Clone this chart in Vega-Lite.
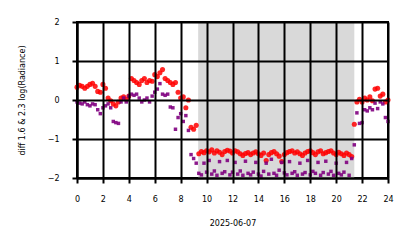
{
  "$schema": "https://vega.github.io/schema/vega-lite/v6.json",
  "width": 311,
  "height": 156,
  "autosize": {"type": "none"},
  "padding": {"left": 77, "top": 22, "right": 26, "bottom": 70},
  "background": "white",
  "config": {
    "font": "DejaVu Sans",
    "view": {"stroke": "black", "strokeWidth": 2},
    "axis": {
      "domainColor": "black",
      "domainWidth": 2,
      "tickColor": "black",
      "tickWidth": 2,
      "tickSize": 5,
      "labelFont": "DejaVu Sans",
      "labelFontSize": 8,
      "labelColor": "black",
      "titleFont": "DejaVu Sans",
      "titleFontSize": 8,
      "titleFontWeight": "normal",
      "titleColor": "black"
    }
  },
  "datasets": {
    "band": [{"start": 9.35, "end": 21.4}],
    "red": [
      {"h":0.0,"v":0.33},{"h":0.2,"v":0.38},{"h":0.4,"v":0.35},{"h":0.6,"v":0.30},{"h":0.8,"v":0.35},
      {"h":1.0,"v":0.40},{"h":1.2,"v":0.43},{"h":1.4,"v":0.35},{"h":1.6,"v":0.22},{"h":1.8,"v":0.20},
      {"h":2.0,"v":0.40},{"h":2.2,"v":0.30},{"h":2.4,"v":0.05},{"h":2.6,"v":-0.02},{"h":2.8,"v":-0.10},
      {"h":3.0,"v":-0.15},{"h":3.2,"v":-0.05},{"h":3.4,"v":0.05},{"h":3.6,"v":0.08},{"h":3.8,"v":0.02},
      {"h":4.0,"v":0.10},{"h":4.2,"v":0.55},{"h":4.4,"v":0.50},{"h":4.6,"v":0.45},{"h":4.8,"v":0.40},
      {"h":5.0,"v":0.50},{"h":5.2,"v":0.55},{"h":5.4,"v":0.45},{"h":5.6,"v":0.50},{"h":5.8,"v":0.48},
      {"h":6.0,"v":0.65},{"h":6.2,"v":0.60},{"h":6.4,"v":0.70},{"h":6.6,"v":0.78},{"h":6.8,"v":0.55},
      {"h":7.0,"v":0.50},{"h":7.2,"v":0.45},{"h":7.4,"v":0.40},{"h":7.6,"v":0.45},{"h":7.8,"v":0.20},
      {"h":8.0,"v":0.05},{"h":8.2,"v":0.08},{"h":8.4,"v":-0.20},{"h":8.6,"v":0.0},{"h":8.8,"v":-0.70},
      {"h":9.0,"v":-0.75},{"h":9.2,"v":-0.65},
      {"h":9.4,"v":-1.38},{"h":9.6,"v":-1.32},{"h":9.8,"v":-1.35},{"h":10.0,"v":-1.30},{"h":10.2,"v":-1.33},
      {"h":10.4,"v":-1.28},{"h":10.6,"v":-1.36},{"h":10.8,"v":-1.30},{"h":11.0,"v":-1.34},{"h":11.2,"v":-1.40},
      {"h":11.4,"v":-1.32},{"h":11.6,"v":-1.29},{"h":11.8,"v":-1.31},{"h":12.0,"v":-1.36},{"h":12.2,"v":-1.30},
      {"h":12.4,"v":-1.33},{"h":12.6,"v":-1.38},{"h":12.8,"v":-1.42},{"h":13.0,"v":-1.37},{"h":13.2,"v":-1.35},
      {"h":13.4,"v":-1.40},{"h":13.6,"v":-1.36},{"h":13.8,"v":-1.33},{"h":14.0,"v":-1.38},{"h":14.2,"v":-1.42},
      {"h":14.4,"v":-1.36},{"h":14.6,"v":-1.55},{"h":14.8,"v":-1.40},{"h":15.0,"v":-1.35},{"h":15.2,"v":-1.32},
      {"h":15.4,"v":-1.38},{"h":15.6,"v":-1.44},{"h":15.8,"v":-1.58},{"h":16.0,"v":-1.40},{"h":16.2,"v":-1.35},
      {"h":16.4,"v":-1.32},{"h":16.6,"v":-1.30},{"h":16.8,"v":-1.36},{"h":17.0,"v":-1.33},{"h":17.2,"v":-1.38},
      {"h":17.4,"v":-1.42},{"h":17.6,"v":-1.36},{"h":17.8,"v":-1.32},{"h":18.0,"v":-1.30},{"h":18.2,"v":-1.35},
      {"h":18.4,"v":-1.40},{"h":18.6,"v":-1.33},{"h":18.8,"v":-1.30},{"h":19.0,"v":-1.38},{"h":19.2,"v":-1.35},
      {"h":19.4,"v":-1.32},{"h":19.6,"v":-1.30},{"h":19.8,"v":-1.36},{"h":20.0,"v":-1.40},{"h":20.2,"v":-1.34},
      {"h":20.4,"v":-1.38},{"h":20.6,"v":-1.42},{"h":20.8,"v":-1.36},{"h":21.0,"v":-1.40},{"h":21.2,"v":-1.45},
      {"h":21.4,"v":-0.62},{"h":21.6,"v":-0.05},{"h":21.8,"v":0.02},{"h":22.0,"v":-0.05},{"h":22.2,"v":0.05},
      {"h":22.4,"v":0.0},{"h":22.6,"v":0.08},{"h":22.8,"v":-0.02},{"h":23.0,"v":0.28},{"h":23.2,"v":0.30},
      {"h":23.4,"v":0.10},{"h":23.6,"v":0.15},{"h":23.8,"v":-0.05},{"h":24.0,"v":0.0}
    ],
    "purple": [
      {"h":0.0,"v":-0.05},{"h":0.2,"v":-0.08},{"h":0.4,"v":-0.10},{"h":0.6,"v":-0.05},{"h":0.8,"v":-0.12},
      {"h":1.0,"v":-0.15},{"h":1.2,"v":-0.10},{"h":1.4,"v":-0.12},{"h":1.6,"v":-0.25},{"h":1.8,"v":-0.35},
      {"h":2.0,"v":-0.20},{"h":2.2,"v":-0.15},{"h":2.4,"v":-0.10},{"h":2.6,"v":-0.20},{"h":2.8,"v":-0.55},
      {"h":3.0,"v":-0.58},{"h":3.2,"v":-0.60},{"h":3.4,"v":-0.05},{"h":3.6,"v":0.05},{"h":3.8,"v":-0.05},
      {"h":4.0,"v":0.10},{"h":4.2,"v":0.15},{"h":4.4,"v":0.12},{"h":4.6,"v":0.15},{"h":4.8,"v":0.05},
      {"h":5.0,"v":-0.05},{"h":5.2,"v":0.0},{"h":5.4,"v":0.05},{"h":5.6,"v":-0.05},{"h":5.8,"v":0.10},
      {"h":6.0,"v":0.20},{"h":6.2,"v":0.28},{"h":6.4,"v":0.42},{"h":6.6,"v":0.15},{"h":6.8,"v":0.12},
      {"h":7.0,"v":0.15},{"h":7.2,"v":-0.18},{"h":7.4,"v":-0.20},{"h":7.6,"v":-0.75},{"h":7.8,"v":-0.45},
      {"h":8.0,"v":-0.35},{"h":8.2,"v":-0.55},{"h":8.4,"v":-0.40},{"h":8.6,"v":-0.78},{"h":8.8,"v":-1.40},
      {"h":9.0,"v":-1.50},{"h":9.2,"v":-1.62},
      {"h":9.4,"v":-1.88},{"h":9.6,"v":-1.92},{"h":9.8,"v":-1.62},{"h":10.0,"v":-1.85},{"h":10.2,"v":-1.55},
      {"h":10.4,"v":-1.90},{"h":10.6,"v":-1.82},{"h":10.8,"v":-1.93},{"h":11.0,"v":-1.58},{"h":11.2,"v":-1.88},
      {"h":11.4,"v":-1.84},{"h":11.6,"v":-1.55},{"h":11.8,"v":-1.92},{"h":12.0,"v":-1.85},{"h":12.2,"v":-1.60},
      {"h":12.4,"v":-1.90},{"h":12.6,"v":-1.82},{"h":12.8,"v":-1.93},{"h":13.0,"v":-1.57},{"h":13.2,"v":-1.88},
      {"h":13.4,"v":-1.92},{"h":13.6,"v":-1.85},{"h":13.8,"v":-1.60},{"h":14.0,"v":-1.90},{"h":14.2,"v":-1.95},
      {"h":14.4,"v":-1.83},{"h":14.6,"v":-1.62},{"h":14.8,"v":-1.90},{"h":15.0,"v":-1.52},{"h":15.2,"v":-1.88},
      {"h":15.4,"v":-1.93},{"h":15.6,"v":-1.80},{"h":15.8,"v":-1.60},{"h":16.0,"v":-1.87},{"h":16.2,"v":-1.92},
      {"h":16.4,"v":-1.58},{"h":16.6,"v":-1.88},{"h":16.8,"v":-1.84},{"h":17.0,"v":-1.93},{"h":17.2,"v":-1.62},
      {"h":17.4,"v":-1.90},{"h":17.6,"v":-1.86},{"h":17.8,"v":-1.55},{"h":18.0,"v":-1.92},{"h":18.2,"v":-1.83},
      {"h":18.4,"v":-1.88},{"h":18.6,"v":-1.60},{"h":18.8,"v":-1.93},{"h":19.0,"v":-1.86},{"h":19.2,"v":-1.57},
      {"h":19.4,"v":-1.90},{"h":19.6,"v":-1.83},{"h":19.8,"v":-1.93},{"h":20.0,"v":-1.62},{"h":20.2,"v":-1.88},
      {"h":20.4,"v":-1.92},{"h":20.6,"v":-1.85},{"h":20.8,"v":-1.60},{"h":21.0,"v":-1.93},{"h":21.2,"v":-1.50},
      {"h":21.4,"v":-1.15},{"h":21.6,"v":-0.33},{"h":21.8,"v":-0.60},{"h":22.0,"v":-0.58},{"h":22.2,"v":-0.25},
      {"h":22.4,"v":-0.28},{"h":22.6,"v":-0.20},{"h":22.8,"v":-0.25},{"h":23.0,"v":-0.08},{"h":23.2,"v":-0.22},
      {"h":23.4,"v":-0.05},{"h":23.6,"v":-0.10},{"h":23.8,"v":-0.45},{"h":24.0,"v":-0.55}
    ]
  },
  "encoding": {
    "x": {"type": "quantitative",
      "scale": {"domain": [0, 24], "nice": false, "zero": false},
      "axis": {"values": [0,2,4,6,8,10,12,14,16,18,20,22,24], "title": "2025-06-07", "titlePadding": 16, "labelPadding": 12,
        "grid": true, "gridColor": "black", "gridWidth": 2, "gridOpacity": 1, "zindex": 1, "labelOverlap": false, "labelFlush": false}},
    "y": {"type": "quantitative",
      "scale": {"domain": [-2, 2], "nice": false, "zero": false},
      "axis": {"values": [-2,-1,0,1,2], "title": "diff 1.6 & 2.3  log(Radiance)", "titlePadding": 21, "labelPadding": 13,
        "grid": true, "gridColor": "black", "gridWidth": 2, "gridOpacity": 1, "zindex": 1, "labelOverlap": false, "labelFlush": false}}
  },
  "layer": [
    {
      "data": {"name": "band"},
      "mark": {"type": "rect", "color": "#d9d9d9", "opacity": 1},
      "encoding": {
        "x": {"field": "start", "type": "quantitative"},
        "x2": {"field": "end"},
        "y": {"value": 0},
        "y2": {"value": 156}
      }
    },
    {
      "data": {"name": "red"},
      "mark": {"type": "point", "shape": "circle", "filled": true, "color": "#ff0000", "opacity": 0.85, "size": 26},
      "encoding": {
        "x": {"field": "h", "type": "quantitative"},
        "y": {"field": "v", "type": "quantitative"}
      }
    },
    {
      "data": {"name": "purple"},
      "mark": {"type": "point", "shape": "square", "filled": true, "color": "#800080", "opacity": 0.9, "size": 12},
      "encoding": {
        "x": {"field": "h", "type": "quantitative"},
        "y": {"field": "v", "type": "quantitative"}
      }
    }
  ]
}
